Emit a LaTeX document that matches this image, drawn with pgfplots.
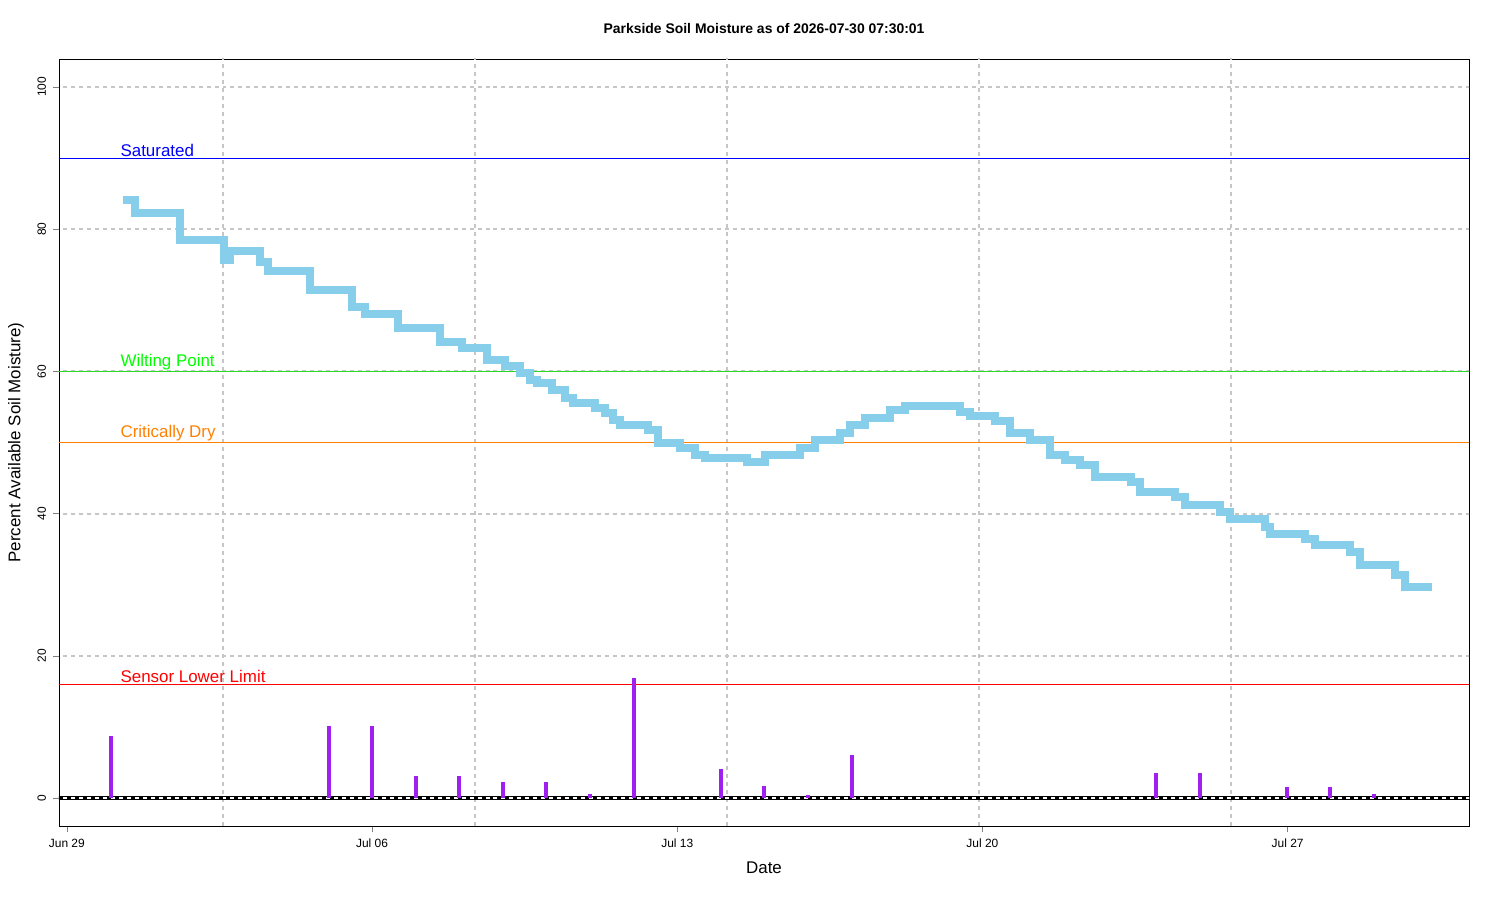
\documentclass[border=0pt]{standalone}
\usepackage{pgfplots}
\pgfplotsset{compat=1.18}
\usepackage{fontspec}
\setmainfont{Liberation Sans}
\definecolor{sky}{HTML}{87CEEB}
\definecolor{purp}{HTML}{A020F0}
\begin{document}
\begin{tikzpicture}
\begin{axis}[name=ax, scale only axis, width=705bp, height=383.5bp,
  xmin=-0.18, xmax=32.16, ymin=-3.94, ymax=103.94,
  xtick={0,7,14,21,28}, xticklabels={Jun 29,Jul 06,Jul 13,Jul 20,Jul 27},
  ytick={0,20,40,60,80,100},
  yticklabel style={rotate=90},
  tick label style={font=\fontsize{6}{7}\selectfont},
  tick align=outside, tick pos=left, major tick length=3bp,
  /pgf/number format/assume math mode=true,
  xlabel={Date}, ylabel={Percent Available Soil Moisture)},
  label style={font=\fontsize{8.5}{10}\selectfont},
  title={\bfseries Parkside Soil Moisture as of 2026-07-30 07:30:01},
  title style={font=\fontsize{7}{8}\selectfont, yshift=3bp},
  axis line style={black, line width=0.4pt},
  clip=true]
\pgfplotsextra{
 \foreach \v in {0,20,40,60,80,100}{\draw[gray!45,dash pattern=on 2pt off 2pt,line width=1pt] (axis cs:-1,\v) -- (axis cs:33,\v);}
 \foreach \v in {3.58,9.36,15.14,20.92,26.7}{\draw[gray!45,dash pattern=on 2pt off 2pt,line width=1pt] (axis cs:\v,-5) -- (axis cs:\v,105);}
}
\addplot[blue, line width=0.4pt, domain=-1:33, samples=2] coordinates {(-1,90) (33,90)};
\addplot[green!70!gray, line width=0.4pt] coordinates {(-1,60) (33,60)};
\addplot[orange, line width=0.4pt] coordinates {(-1,50) (33,50)};
\addplot[red, line width=0.4pt] coordinates {(-1,16) (33,16)};
\addplot[black, line width=2pt] coordinates {(-1,0) (33,0)};
\addplot[white, line width=0.8pt, dash pattern=on 2pt off 2pt] coordinates {(-1,0) (33,0)};
\addplot[sky, line width=4pt, const plot] coordinates {
(1.28,84.1)(1.56,82.3)(2.59,78.5)(3.6,75.7)(3.74,77)(4.42,75.4)(4.61,74.1)(5.57,71.4)(6.54,69)(6.84,68.1)(7.59,66.1)(8.56,64.1)(9.06,63.3)(9.63,61.6)(10.05,60.8)(10.39,59.8)(10.62,58.8)(10.78,58.4)(11.12,57.4)(11.42,56.3)(11.61,55.6)(12.11,54.9)(12.34,54.1)(12.52,53.2)(12.68,52.5)(13.33,51.8)(13.56,49.9)(14.06,49.2)(14.4,48.2)(14.63,47.8)(15.6,47.3)(16.01,48.2)(16.81,49.2)(17.16,50.4)(17.73,51.3)(17.96,52.5)(18.3,53.4)(18.88,54.6)(19.22,55.1)(20.48,54.3)(20.71,53.7)(21.28,53)(21.63,51.3)(22.09,50.4)(22.55,48.2)(22.89,47.5)(23.23,46.8)(23.58,45.1)(24.4,44.4)(24.61,43)(25.41,42.3)(25.64,41.2)(26.44,40.2)(26.67,39.2)(27.48,38.1)(27.59,37.1)(28.39,36.4)(28.62,35.6)(29.43,34.6)(29.66,32.8)(30.46,31.4)(30.69,29.7)(31.31,29.7)};
\addplot[purp, line width=2pt, ycomb] coordinates {
(1.01,8.7)(6.01,10.1)(7,10.1)(8,3.1)(9,3.1)(10,2.3)(11,2.3)(12,0.6)(13,16.9)(15,4.1)(16,1.7)(17,0.4)(18,6.1)(24.98,3.5)(26,3.5)(27.98,1.5)(28.97,1.5)(29.98,0.6)};
\node[anchor=south west, inner sep=0.5pt, blue, font=\fontsize{8.5}{10}\selectfont] at (axis cs:1.2,90) {Saturated};
\node[anchor=south west, inner sep=0.5pt, green, font=\fontsize{8.5}{10}\selectfont] at (axis cs:1.2,60) {Wilting Point};
\node[anchor=south west, inner sep=0.5pt, orange, font=\fontsize{8.5}{10}\selectfont] at (axis cs:1.2,50) {Critically Dry};
\node[anchor=south west, inner sep=0.5pt, red, font=\fontsize{8.5}{10}\selectfont] at (axis cs:1.2,16) {Sensor Lower Limit};
\end{axis}
\pgfresetboundingbox
\path[use as bounding box] ([shift={(-29.5bp,-37bp)}]ax.south west) rectangle ++(750bp,450bp);
\end{tikzpicture}
\end{document}
